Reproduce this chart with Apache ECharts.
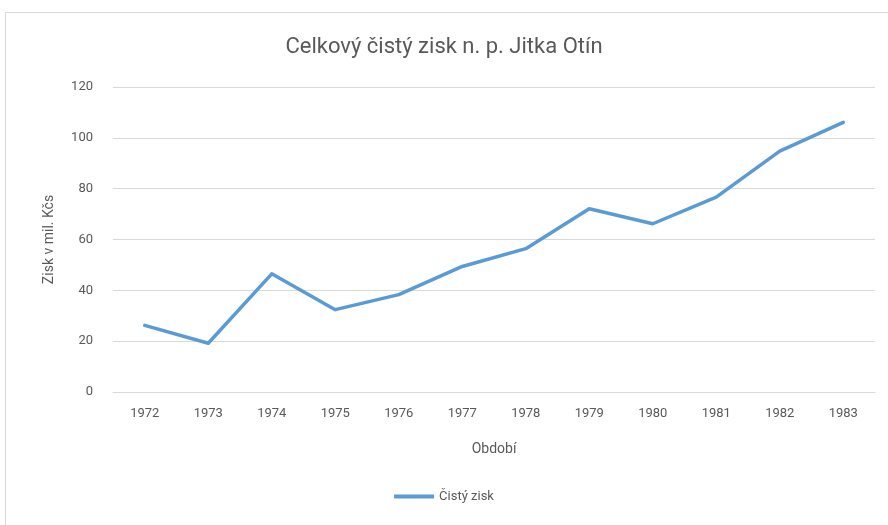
<!DOCTYPE html>
<html>
<head>
<meta charset="utf-8">
<script src="https://cdn.jsdelivr.net/npm/echarts@6/dist/echarts.min.js"></script>
<style>
  html, body { margin: 0; padding: 0; background: #fff; }
  #frame {
    position: absolute; left: 5px; top: 12px; width: 890px; height: 520px;
    border: 1px solid #d9d9d9; box-sizing: border-box;
  }
  #chart { position: absolute; left: 0; top: 0; width: 888px; height: 525px; }
</style>
</head>
<body>
<div id="frame"></div>
<div id="chart"></div>
<script>
  // roky a čistý zisk (mil. Kčs)
  const years = ['1972', '1973', '1974', '1975', '1976', '1977', '1978', '1979', '1980', '1981', '1982', '1983']
  const profit = [26.2, 19.2, 46.5, 32.4, 38.3, 49.4, 56.4, 72.1, 66.2, 76.7, 94.8, 106.1]

  const textColor = '#595959'
  const font = 'Roboto, "Liberation Sans", sans-serif'

  const chart = echarts.init(document.getElementById('chart'))

  const option = {
    backgroundColor: 'transparent',
    title: {
      text: 'Celkový čistý zisk n. p. Jitka Otín',
      left: 'center',
      top: 31,
      textStyle: { color: textColor, fontSize: 22, fontWeight: 'normal', fontFamily: font }
    },
    legend: {
      data: ['Čistý zisk'],
      bottom: 17,
      left: 'center',
      itemWidth: 40,
      itemHeight: 4,
      icon: 'rect',
      itemGap: 4,
      textStyle: { color: textColor, fontSize: 13, fontFamily: font }
    },
    grid: {
      left: 113,
      right: 13,
      top: 87,
      bottom: 133
    },
    xAxis: {
      type: 'category',
      data: years,
      name: 'Období',
      nameLocation: 'middle',
      nameGap: 50,
      nameTextStyle: { color: textColor, fontSize: 14, fontFamily: font },
      axisLine: { lineStyle: { color: '#d9d9d9' } },
      axisTick: { show: false },
      axisLabel: { color: textColor, fontSize: 13, fontFamily: font, margin: 15 }
    },
    yAxis: {
      type: 'value',
      min: 0,
      max: 120,
      interval: 20,
      name: 'Zisk v mil. Kčs',
      nameLocation: 'middle',
      nameGap: 57,
      nameTextStyle: { color: textColor, fontSize: 14, fontFamily: font },
      axisLine: { show: false },
      axisTick: { show: false },
      axisLabel: { color: textColor, fontSize: 13, fontFamily: font, margin: 20 },
      splitLine: { lineStyle: { color: '#d9d9d9' } }
    },
    series: [
      {
        name: 'Čistý zisk',
        type: 'line',
        data: profit,
        showSymbol: false,
        symbol: 'none',
        lineStyle: { color: '#5b9bd5', width: 3.5, cap: 'round', join: 'round' },
        itemStyle: { color: '#5b9bd5' }
      }
    ]
  }

  chart.setOption(option)
</script>
</body>
</html>
